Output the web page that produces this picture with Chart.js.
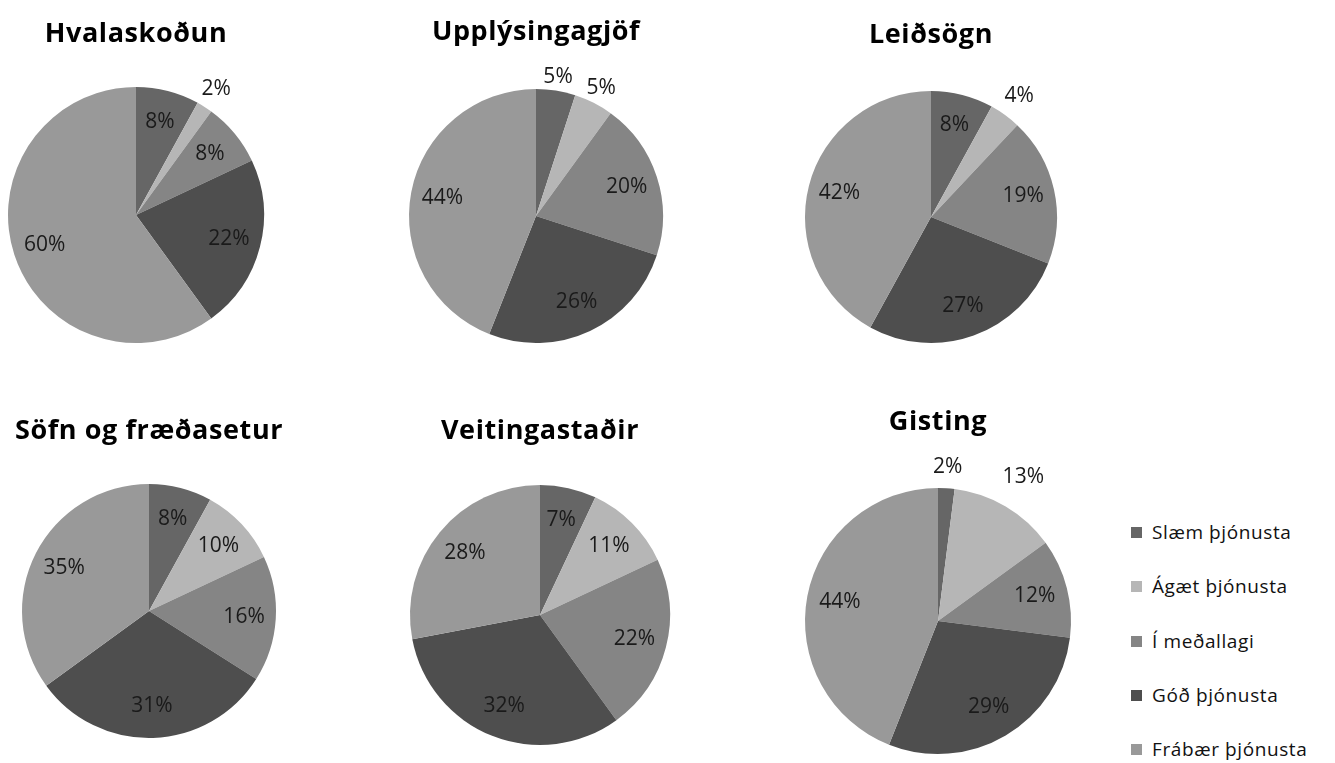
<!DOCTYPE html>
<html>
<head>
<meta charset="utf-8">
<script src="https://cdn.jsdelivr.net/npm/chart.js@4"></script>
<style>
  body { margin: 0; background: #fff; width: 1335px; height: 763px; overflow: hidden; position: relative; font-family: "Open Sans", sans-serif; }
  canvas { position: absolute; }
  .title { position: absolute; width: 340px; text-align: center; font-weight: bold; font-size: 27px; letter-spacing: 0.6px; color: #000; line-height: 1; }
  .legend { position: absolute; left: 1131px; top: 519px; }
  .legend-item { position: relative; height: 54.3px; font-size: 19px; color: #111; letter-spacing: 0.6px; }
  .legend-item span { display: inline-block; width: 11px; height: 11px; margin-right: 10px; vertical-align: 1px; }
</style>
</head>
<body>
<script>
// categories and data
const categories = ["Slæm þjónusta", "Ágæt þjónusta", "Í meðallagi", "Góð þjónusta", "Frábær þjónusta"];
const colors = ["#666666", "#b6b6b6", "#858585", "#4e4e4e", "#999999"];

const titles = ["Hvalaskoðun", "Upplýsingagjöf", "Leiðsögn", "Söfn og fræðasetur", "Veitingastaðir", "Gisting"];
const hvalaskodun = [8, 2, 8, 22, 60];
const upplysingagjof = [5, 5, 20, 26, 44];
const leidsogn = [8, 4, 19, 27, 42];
const sofn = [8, 10, 16, 31, 35];
const veitingastadir = [7, 11, 22, 32, 28];
const gisting = [2, 13, 12, 29, 44];

const allData = [hvalaskodun, upplysingagjof, leidsogn, sofn, veitingastadir, gisting];

// layout for each pie: centre x, centre y, radius, title y
const layout = [
  { cx: 136, cy: 215, r: 128, ty: 18, outside: { 1: 1.17 } },
  { cx: 536, cy: 216, r: 127, ty: 16, outside: { 0: 1.11, 1: 1.13 } },
  { cx: 931, cy: 217, r: 126, ty: 19, outside: { 1: 1.19 } },
  { cx: 149, cy: 611, r: 127, ty: 415, outside: {} },
  { cx: 540, cy: 615, r: 130, ty: 415, outside: {} },
  { cx: 938, cy: 621, r: 133, ty: 406, outside: { 0: 1.16, 1: 1.26 } },
];

// percentage labels on slices
const sliceLabels = {
  id: "sliceLabels",
  afterDatasetsDraw(chart, args, opts) {
    const c = chart.ctx;
    const meta = chart.getDatasetMeta(0);
    c.save();
    c.font = "21px 'Open Sans'";
    c.fillStyle = "#1a1a1a";
    c.textAlign = "center";
    c.textBaseline = "middle";
    meta.data.forEach((arc, i) => {
      const p = arc.getProps(["x", "y", "startAngle", "endAngle", "outerRadius"], true);
      const mid = (p.startAngle + p.endAngle) / 2;
      const f = opts.outside[i] || 0.75;
      const x = p.x + Math.cos(mid) * p.outerRadius * f;
      const y = p.y + Math.sin(mid) * p.outerRadius * f;
      c.fillText(chart.data.datasets[0].data[i] + "%", x, y);
    });
    c.restore();
  },
};

const W = 380, H = 350;
allData.forEach((values, k) => {
  const L = layout[k];
  const cv = document.createElement("canvas");
  cv.width = W;
  cv.height = H;
  cv.style.left = (L.cx - W / 2) + "px";
  cv.style.top = (L.cy - H / 2) + "px";
  document.body.appendChild(cv);

  const t = document.createElement("div");
  t.className = "title";
  t.textContent = titles[k];
  t.style.left = (L.cx - 170) + "px";
  t.style.top = L.ty + "px";
  document.body.appendChild(t);

  new Chart(cv, {
    type: "pie",
    data: {
      labels: categories,
      datasets: [
        {
          data: values,
          backgroundColor: colors,
          borderWidth: 0,
        },
      ],
    },
    options: {
      responsive: false,
      animation: false,
      layout: {
        padding: { left: W / 2 - L.r, right: W / 2 - L.r, top: H / 2 - L.r, bottom: H / 2 - L.r },
      },
      plugins: {
        legend: { display: false },
        tooltip: { enabled: false },
        sliceLabels: { outside: L.outside },
      },
    },
    plugins: [sliceLabels],
  });
});

// legend
const legendEl = document.createElement("div");
legendEl.className = "legend";
categories.forEach((name, i) => {
  const item = document.createElement("div");
  item.className = "legend-item";
  item.innerHTML = '<span style="background:' + colors[i] + '"></span>' + name;
  legendEl.appendChild(item);
});
document.body.appendChild(legendEl);
</script>
</body>
</html>
